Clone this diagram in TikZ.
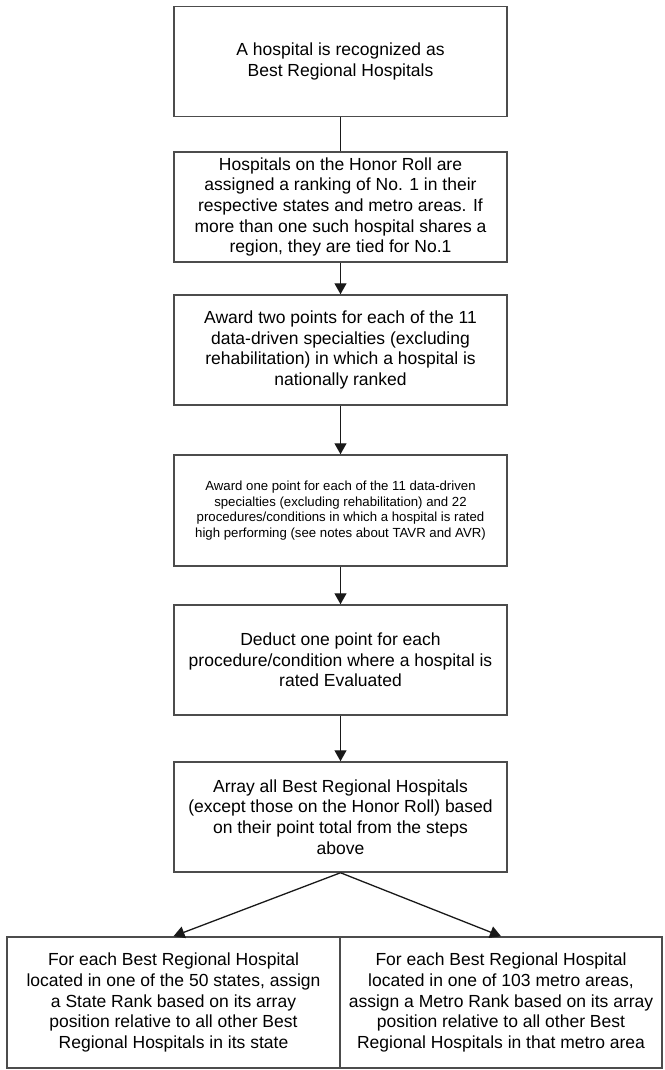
\documentclass[tikz,border=0pt]{standalone}
\usepackage{fontspec}
\setmainfont{Liberation Sans}
\usetikzlibrary{arrows.meta}
\begin{document}
\begin{tikzpicture}[x=1pt,y=-1pt,
	stepbox/.style={draw=black!70,line width=1.5pt,minimum width=333pt,minimum height=110pt,inner sep=0pt,align=center,font=\fontsize{17.5}{20.6}\selectfont},
	smallbox/.style={stepbox,font=\fontsize{13.2}{15.8}\selectfont},
	rankbox/.style={stepbox,minimum height=131pt},
	link/.style={draw=black!90,line width=1.3pt},
	arr/.style={link,-{Triangle[width=12pt,length=11pt]}}]
	      	\useasboundingbox (0,0) rectangle (664,1070);
	      	\node[stepbox] (B1) at (340.5,61.5) {A hospital is recognized as\\Best Regional Hospitals};
	      	\node[stepbox] (B2) at (340.5,207) {Hospitals on the Honor Roll are\\assigned a ranking of No. 1 in their\\respective states and metro areas. If\\more than one such hospital shares a\\region, they are tied for No.1};
	      	\node[stepbox] (B3) at (340.5,350) {Award two points for each of the 11\\data-driven specialties (excluding\\rehabilitation) in which a hospital is\\nationally ranked};
	      	\node[smallbox,minimum height=111pt] (B4) at (340.5,510.5) {Award one point for each of the 11 data-driven\\specialties (excluding rehabilitation) and 22\\procedures/conditions in which a hospital is rated\\high performing (see notes about TAVR and AVR)};
	      	\node[stepbox] (B5) at (340.5,660) {Deduct one point for each\\procedure/condition where a hospital is\\rated Evaluated};
	      	\node[stepbox] (B6) at (340.5,817) {Array all Best Regional Hospitals\\(except those on the Honor Roll) based\\on their point total from the steps\\above};
	      	\node[rankbox] (SR) at (173.5,1002.5) {For each Best Regional Hospital\\located in one of the 50 states, assign\\a State Rank based on its array\\position relative to all other Best\\Regional Hospitals in its state};
	      	\node[rankbox,minimum width=322pt] (MR) at (501,1002.5) {For each Best Regional Hospital\\located in one of 103 metro areas,\\assign a Metro Rank based on its array\\position relative to all other Best\\Regional Hospitals in that metro area};
	      	\draw[link] (B1) -- (B2);
	      	\draw[arr] (B2) -- (B3);
	      	\draw[arr] (B3) -- (B4);
	      	\draw[arr] (B4) -- (B5);
	      	\draw[arr] (B5) -- (B6);
	      	\draw[arr] (B6.south) -- (SR.north);
	      	\draw[arr] (B6.south) -- (MR.north);
	      \end{tikzpicture}
\end{document}
